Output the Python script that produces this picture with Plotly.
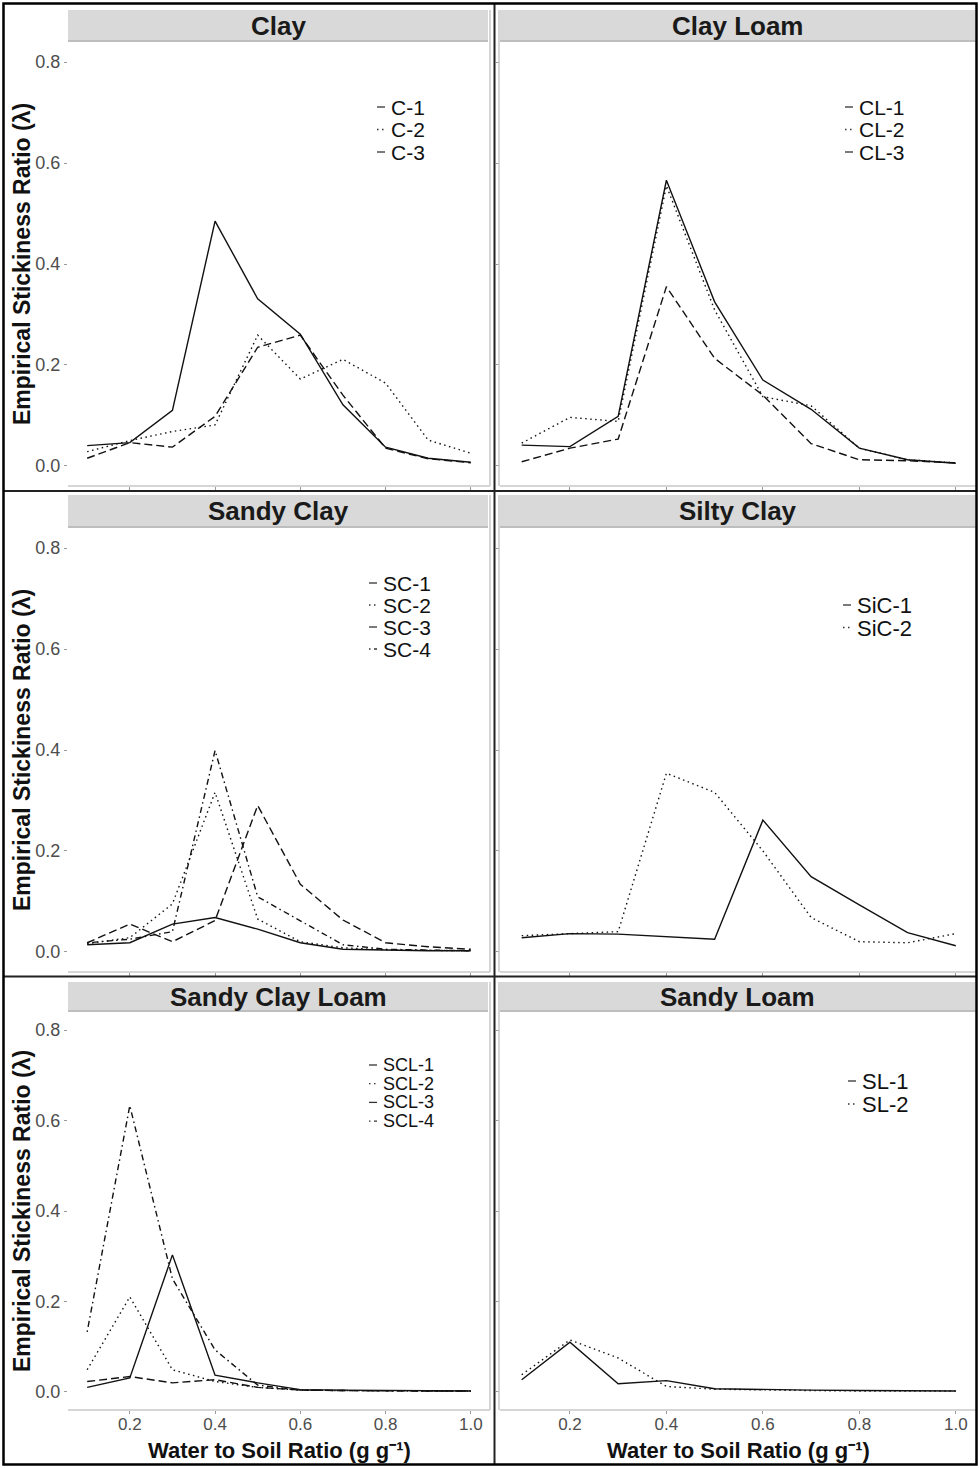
import plotly.graph_objects as go

# ---- data -------------------------------------------------------------
water_ratio = [0.1, 0.2, 0.3, 0.4, 0.5, 0.6, 0.7, 0.8, 0.9, 1.0]

c_1 = [0.040, 0.046, 0.110, 0.485, 0.331, 0.261, 0.121, 0.037, 0.015, 0.007]
c_2 = [0.028, 0.050, 0.068, 0.081, 0.259, 0.172, 0.211, 0.164, 0.051, 0.025]
c_3 = [0.015, 0.046, 0.037, 0.098, 0.235, 0.259, 0.140, 0.035, 0.014, 0.006]

cl_1 = [0.041, 0.038, 0.098, 0.566, 0.325, 0.170, 0.112, 0.035, 0.012, 0.005]
cl_2 = [0.045, 0.096, 0.088, 0.555, 0.309, 0.137, 0.119, 0.035, 0.012, 0.006]
cl_3 = [0.008, 0.035, 0.053, 0.355, 0.213, 0.140, 0.044, 0.012, 0.010, 0.006]

sc_1 = [0.014, 0.018, 0.055, 0.068, 0.045, 0.018, 0.005, 0.003, 0.002, 0.002]
sc_2 = [0.016, 0.028, 0.095, 0.316, 0.065, 0.020, 0.008, 0.004, 0.003, 0.002]
sc_3 = [0.018, 0.055, 0.020, 0.062, 0.290, 0.134, 0.063, 0.018, 0.010, 0.005]
sc_4 = [0.018, 0.025, 0.040, 0.399, 0.109, 0.062, 0.014, 0.005, 0.003, 0.002]

sic_1 = [0.028, 0.036, 0.035, 0.030, 0.025, 0.261, 0.149, 0.093, 0.038, 0.012]
sic_2 = [0.032, 0.036, 0.040, 0.354, 0.316, 0.200, 0.068, 0.020, 0.018, 0.036]

scl_1 = [0.010, 0.031, 0.303, 0.037, 0.020, 0.005, 0.004, 0.003, 0.002, 0.002]
scl_2 = [0.049, 0.210, 0.049, 0.023, 0.010, 0.004, 0.003, 0.002, 0.002, 0.002]
scl_3 = [0.023, 0.034, 0.020, 0.027, 0.010, 0.004, 0.003, 0.002, 0.002, 0.002]
scl_4 = [0.133, 0.633, 0.250, 0.093, 0.015, 0.004, 0.003, 0.002, 0.002, 0.002]

sl_1 = [0.027, 0.110, 0.018, 0.025, 0.007, 0.005, 0.004, 0.003, 0.003, 0.002]
sl_2 = [0.038, 0.115, 0.075, 0.012, 0.006, 0.004, 0.003, 0.002, 0.002, 0.002]

panel_titles = ["Clay", "Clay Loam", "Sandy Clay", "Silty Clay",
                "Sandy Clay Loam", "Sandy Loam"]
panel_series = [
    [("C-1", c_1), ("C-2", c_2), ("C-3", c_3)],
    [("CL-1", cl_1), ("CL-2", cl_2), ("CL-3", cl_3)],
    [("SC-1", sc_1), ("SC-2", sc_2), ("SC-3", sc_3), ("SC-4", sc_4)],
    [("SiC-1", sic_1), ("SiC-2", sic_2)],
    [("SCL-1", scl_1), ("SCL-2", scl_2), ("SCL-3", scl_3), ("SCL-4", scl_4)],
    [("SL-1", sl_1), ("SL-2", sl_2)],
]
y_ticks = [0.0, 0.2, 0.4, 0.6, 0.8]
y_tick_text = ["0.0", "0.2", "0.4", "0.6", "0.8"]
x_ticks = [0.2, 0.4, 0.6, 0.8, 1.0]
x_tick_text = ["0.2", "0.4", "0.6", "0.8", "1.0"]

# ---- layout geometry (pixels) -----------------------------------------
W, H = 979, 1468
FONT = "Liberation Sans, Arial, sans-serif"
INK = "#111111"
DASHES = ["solid", "1.5px,3.5px", "8px,4px", "1.5px,3.5px,6px,3.5px"]

col_x = [(68, 490), (500, 977.5)]                 # plot-area left/right
row_y = [(10, 42, 486), (495, 528, 972), (982, 1012, 1410)]  # strip top, plot top, plot bottom

# legend block: (text left x, first row centre y, row step, font size)
legend_pos = [
    (390, 107, 22.5, 21), (858, 107, 22.5, 21),
    (382, 583, 22, 21), (856, 605, 22.5, 22),
    (382, 1065, 18.7, 18), (861, 1081, 23, 22),
]


def px(x):
    return x / W


def py(y):
    return 1 - y / H


fig = go.Figure()
shapes = []
annotations = []

for i, (title, series) in enumerate(zip(panel_titles, panel_series)):
    r, c = divmod(i, 2)
    x0, x1 = col_x[c]
    s_top, p_top, p_bot = row_y[r]
    ax = "" if i == 0 else str(i + 1)

    for k, (name, vals) in enumerate(series):
        fig.add_trace(go.Scatter(
            x=water_ratio, y=vals, name=name, mode="lines",
            line=dict(color=INK, width=1.4, dash=DASHES[k]),
            xaxis="x" + ax, yaxis="y" + ax, showlegend=False,
        ))

    bottom_row = (r == 2)
    left_col = (c == 0)
    fig.update_layout(**{
        "xaxis" + ax: dict(
            domain=[px(x0), px(x1)], range=[0.055, 1.045], anchor="y" + ax,
            tickvals=x_ticks, ticktext=x_tick_text, showticklabels=bottom_row,
            ticks="outside", ticklen=3, tickwidth=1, tickcolor="#9a9a9a",
            ticklabelstandoff=-4,
            tickfont=dict(family=FONT, size=17, color="#4d4d4d"),
            showgrid=False, zeroline=False, showline=False,
        ),
        "yaxis" + ax: dict(
            domain=[py(p_bot), py(p_top)], range=[-0.04, 0.84], anchor="x" + ax,
            tickvals=y_ticks, ticktext=y_tick_text, showticklabels=left_col,
            ticks="outside", ticklen=3, tickwidth=1, tickcolor="#9a9a9a",
            tickfont=dict(family=FONT, size=18, color="#4d4d4d"),
            showgrid=False, zeroline=False, showline=False,
        ),
    })

    # strip with panel title
    strip_r = x1 - 2
    shapes.append(dict(type="rect", xref="paper", yref="paper",
                       x0=px(x0), x1=px(strip_r), y0=py(p_top), y1=py(s_top),
                       fillcolor="#d9d9d9", line=dict(width=0), layer="below"))
    shapes.append(dict(type="line", xref="paper", yref="paper",
                       x0=px(x0), x1=px(strip_r), y0=py(p_top - 1), y1=py(p_top - 1),
                       line=dict(color="#b5b5b5", width=1.5)))
    annotations.append(dict(xref="paper", yref="paper",
                            x=px((x0 + strip_r) / 2), y=py((s_top + p_top) / 2),
                            text="<b>%s</b>" % title, showarrow=False,
                            font=dict(family=FONT, size=26, color="#1a1a1a"),
                            xanchor="center", yanchor="middle"))

    # light frame round the plot area
    frame = dict(color="#c9c9c9", width=1.5)
    shapes.append(dict(type="line", xref="paper", yref="paper",
                       x0=px(x0), x1=px(x1), y0=py(p_bot), y1=py(p_bot), line=frame))
    if left_col:
        shapes.append(dict(type="line", xref="paper", yref="paper",
                           x0=px(x1), x1=px(x1), y0=py(p_bot), y1=py(s_top), line=frame))
    else:
        shapes.append(dict(type="line", xref="paper", yref="paper",
                           x0=px(x0 - 1), x1=px(x0 - 1), y0=py(p_bot), y1=py(s_top), line=frame))

    # axis titles
    if left_col:
        annotations.append(dict(xref="paper", yref="paper",
                                x=px(22), y=py((p_top + p_bot) / 2),
                                text="<b>Empirical Stickiness Ratio (λ)</b>",
                                textangle=-90, showarrow=False,
                                font=dict(family=FONT, size=23, color="#111111"),
                                xanchor="center", yanchor="middle"))
    if bottom_row:
        annotations.append(dict(xref="paper", yref="paper",
                                x=px((x0 + x1) / 2), y=py(1450),
                                text="<b>Water to Soil Ratio (g g⁻¹)</b>",
                                showarrow=False,
                                font=dict(family=FONT, size=22, color="#111111"),
                                xanchor="center", yanchor="middle"))

    # legend: short key line plus series name
    lx, ly, step, fsize = legend_pos[i]
    for k, (name, _) in enumerate(series):
        yy = ly + k * step
        shapes.append(dict(type="line", xref="paper", yref="paper",
                           x0=px(lx - 13), x1=px(lx - 5), y0=py(yy), y1=py(yy),
                           line=dict(color="#333333", width=1.3, dash=DASHES[k])))
        annotations.append(dict(xref="paper", yref="paper", x=px(lx), y=py(yy),
                                text=name, showarrow=False,
                                height=int(step) - 2, borderpad=0,
                                font=dict(family=FONT, size=fsize, color="#111111"),
                                xanchor="left", yanchor="middle"))

# separators and outer frame
sep = dict(color="#222222", width=2)
shapes.append(dict(type="line", xref="paper", yref="paper",
                   x0=px(494.5), x1=px(494.5), y0=py(3), y1=py(1465), line=sep))
for yy in (491, 976.5):
    shapes.append(dict(type="line", xref="paper", yref="paper",
                       x0=px(3), x1=px(977), y0=py(yy), y1=py(yy), line=sep))
shapes.append(dict(type="rect", xref="paper", yref="paper",
                   x0=px(3.5), x1=px(976.5), y0=py(1464.5), y1=py(3.5),
                   line=dict(color="#000000", width=2.5)))

fig.update_layout(
    width=W, height=H,
    margin=dict(l=0, r=0, t=0, b=0),
    paper_bgcolor="white", plot_bgcolor="white",
    shapes=shapes, annotations=annotations,
    showlegend=False,
)

fig.write_html("out.html")
